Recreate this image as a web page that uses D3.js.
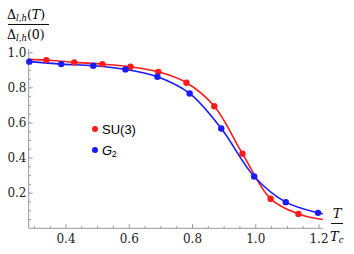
<!DOCTYPE html>
<html>
<head>
<meta charset="utf-8">
<script src="https://cdn.jsdelivr.net/npm/d3@7"></script>
<style>
  body { margin: 0; background: #fff; }
  svg { display: block; }
  .serif { font-family: "DejaVu Serif", serif; }
  .sans { font-family: "Liberation Sans", Arial, sans-serif; }
</style>
</head>
<body>
<svg id="chart" width="354" height="254"></svg>
<script>
// SU(3) points
const tRed = [0.338, 0.426, 0.515, 0.604, 0.692, 0.781, 0.869, 0.958, 1.047, 1.135];
const red = [0.958, 0.945, 0.935, 0.92, 0.891, 0.829, 0.695, 0.425, 0.168, 0.082];
// G2 points
const tBlue = [0.284, 0.385, 0.486, 0.588, 0.689, 0.791, 0.891, 0.995, 1.095, 1.197];
const blue = [0.949, 0.935, 0.926, 0.905, 0.863, 0.768, 0.568, 0.295, 0.149, 0.088];
// where the fitted curves run out past the points
const redEnds = [[0.282, 0.962], [1.212, 0.05]];
const blueEnds = [[0.282, 0.949], [1.212, 0.083]];

const xTicks = [0.4, 0.6, 0.8, 1.0, 1.2];
const yTicks = [0.2, 0.4, 0.6, 0.8, 1.0];

const svg = d3.select("#chart");
const x = d3.scaleLinear().domain([0.4, 1.2]).range([66, 319]);
const y = d3.scaleLinear().domain([0, 1]).range([228.3, 52.7]);
const x0 = 0.282, x1 = 1.212, y1 = 1.02;

const axisColor = "#999";

// x axis
const xa = svg.append("g").attr("class", "serif");
xa.append("line")
  .attr("x1", x(x0)).attr("x2", x(x1))
  .attr("y1", y(0)).attr("y2", y(0))
  .attr("stroke", axisColor);
d3.range(0.3, 1.21, 0.05).forEach((v) => {
  const major = xTicks.some((t) => Math.abs(t - v) < 1e-6);
  xa.append("line")
    .attr("x1", x(v)).attr("x2", x(v))
    .attr("y1", y(0)).attr("y2", y(0) - (major ? 4 : 2.2))
    .attr("stroke", axisColor);
});
xa.selectAll("text.tick")
  .data(xTicks)
  .enter()
  .append("text")
  .attr("x", (d) => x(d))
  .attr("y", 243)
  .attr("text-anchor", "middle")
  .style("font-size", "12px")
  .attr("fill", "#222")
  .text((d) => d.toFixed(1));

// y axis
const ya = svg.append("g").attr("class", "serif");
ya.append("line")
  .attr("x1", x(x0)).attr("x2", x(x0))
  .attr("y1", y(0)).attr("y2", y(y1))
  .attr("stroke", axisColor);
d3.range(0.05, 1.01, 0.05).forEach((v) => {
  const major = yTicks.some((t) => Math.abs(t - v) < 1e-6);
  ya.append("line")
    .attr("x1", x(x0)).attr("x2", x(x0) + (major ? 4 : 2.2))
    .attr("y1", y(v)).attr("y2", y(v))
    .attr("stroke", axisColor);
});
ya.selectAll("text.tick")
  .data(yTicks)
  .enter()
  .append("text")
  .attr("x", 26.5)
  .attr("y", (d) => y(d) + 4.3)
  .attr("text-anchor", "end")
  .style("font-size", "12px")
  .attr("fill", "#222")
  .text((d) => d.toFixed(1));

// curves
const line = d3.line()
  .x((d) => x(d[0]))
  .y((d) => y(d[1]))
  .curve(d3.curveCatmullRom.alpha(0.5));

const series = [
  { t: tRed, v: red, ends: redEnds, color: "#ff1a1a" },
  { t: tBlue, v: blue, ends: blueEnds, color: "#1a1aff" },
];

series.forEach((s) => {
  let pts = s.t.map((t, i) => [t, s.v[i]]);
  if (s.ends[0][0] < pts[0][0] - 0.005) pts.unshift(s.ends[0]);
  pts.push(s.ends[1]);
  svg.append("path")
    .datum(pts)
    .attr("fill", "none")
    .attr("stroke", s.color)
    .attr("stroke-width", 1.6)
    .attr("d", line);
});

series.forEach((s) => {
  svg.append("g")
    .selectAll("circle")
    .data(s.t.map((t, i) => [t, s.v[i]]))
    .enter()
    .append("circle")
    .attr("cx", (d) => x(d[0]))
    .attr("cy", (d) => y(d[1]))
    .attr("r", 3.2)
    .attr("fill", s.color);
});

// legend
const legend = svg.append("g").attr("class", "sans");
legend.append("circle").attr("cx", 95).attr("cy", 129).attr("r", 3).attr("fill", "#ff1a1a");
legend.append("circle").attr("cx", 95).attr("cy", 150).attr("r", 3).attr("fill", "#1a1aff");
legend.append("text")
  .attr("x", 102).attr("y", 133.5)
  .style("font-size", "13px")
  .text("SU(3)");
const g2 = legend.append("text")
  .attr("x", 102).attr("y", 154.5)
  .style("font-size", "13px");
g2.append("tspan").style("font-style", "italic").text("G");
g2.append("tspan").style("font-size", "9px").attr("dy", 2).attr("dx", -0.5).text("2");

// y label: fraction
const yl = svg.append("g").attr("class", "serif");
const num = yl.append("text").attr("x", 7).attr("y", 19).style("font-size", "12.5px");
num.append("tspan").text("Δ");
num.append("tspan").style("font-size", "8.5px").style("font-style", "italic").attr("dy", 2).text("l,h");
num.append("tspan").attr("dy", -2).text("(");
num.append("tspan").style("font-style", "italic").text("T");
num.append("tspan").text(")");
yl.append("line").attr("x1", 8).attr("x2", 49).attr("y1", 24.5).attr("y2", 24.5)
  .attr("stroke", "#111").attr("stroke-width", 1);
const den = yl.append("text").attr("x", 7).attr("y", 38.5).style("font-size", "12.5px");
den.append("tspan").text("Δ");
den.append("tspan").style("font-size", "8.5px").style("font-style", "italic").attr("dy", 2).text("l,h");
den.append("tspan").attr("dy", -2).text("(0)");

// x label: fraction
const xl = svg.append("g").attr("class", "serif");
xl.append("text").attr("x", 337).attr("y", 218).attr("text-anchor", "middle")
  .style("font-size", "13px").style("font-style", "italic").text("T");
xl.append("line").attr("x1", 331).attr("x2", 343).attr("y1", 223.5).attr("y2", 223.5)
  .attr("stroke", "#111").attr("stroke-width", 1);
const tc = xl.append("text").attr("x", 330).attr("y", 241).style("font-size", "13px").style("font-style", "italic");
tc.append("tspan").text("T");
tc.append("tspan").style("font-size", "8.5px").attr("dy", 2).text("c");
</script>
</body>
</html>
